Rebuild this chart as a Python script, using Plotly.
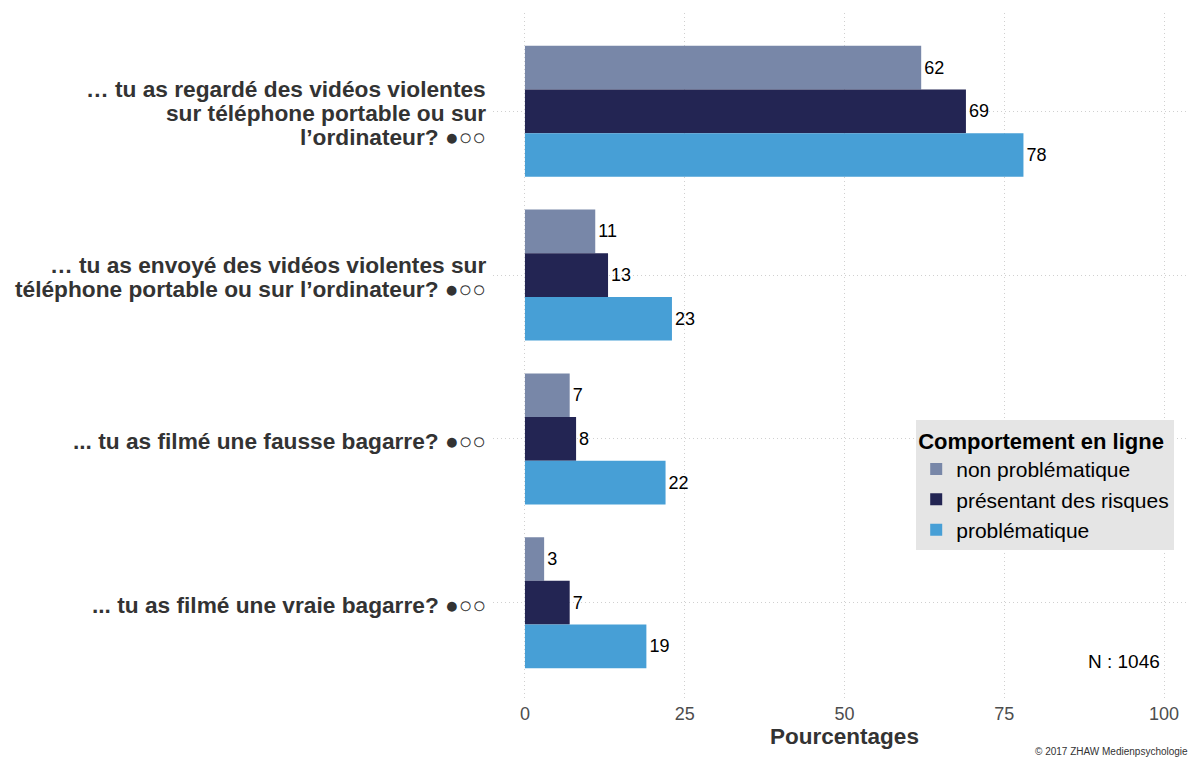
import plotly.graph_objects as go

categories = [
    "… tu as regardé des vidéos violentes<br>sur téléphone portable ou sur<br>l’ordinateur? ●○○",
    "… tu as envoyé des vidéos violentes sur<br>téléphone portable ou sur l’ordinateur? ●○○",
    "... tu as filmé une fausse bagarre? ●○○",
    "... tu as filmé une vraie bagarre? ●○○",
]
series_names = ["non problématique", "présentant des risques", "problématique"]
non_problematique = [62, 11, 7, 3]
presentant_risques = [69, 13, 8, 7]
problematique = [78, 23, 22, 19]
colors = ["#7887a8", "#232553", "#479fd6"]
x_ticks = [0, 25, 50, 75, 100]

FONT = "Liberation Sans, Arial, sans-serif"

fig = go.Figure()
for name, vals, col in zip(series_names, [non_problematique, presentant_risques, problematique], colors):
    fig.add_trace(go.Bar(
        y=categories, x=vals, name=name, orientation="h",
        marker=dict(color=col, line=dict(width=0)),
        text=[str(v) for v in vals], textposition="outside",
        textfont=dict(size=18, color="black", family=FONT),
        cliponaxis=False,
    ))

# category labels drawn as tight-line-spaced annotations
annotations = []
LINE_H = 24
for cat in categories:
    lines = cat.split("<br>")
    n = len(lines)
    for i, ln in enumerate(lines):
        annotations.append(dict(
            text=ln, xref="paper", x=0, xanchor="right", xshift=-5,
            yref="y", y=cat, yanchor="middle",
            yshift=((n - 1) / 2 - i) * LINE_H - 2,
            showarrow=False,
            font=dict(size=22.7, color="#333333", family=FONT, weight="bold"),
        ))

annotations += [
    dict(text="N : 1046", x=93.7, xref="x", y=0.057, yref="paper", yanchor="middle",
         showarrow=False, font=dict(size=19, color="black", family=FONT)),
    dict(text="© 2017 ZHAW Medienpsychologie", x=0.992, xref="paper", xanchor="right",
         y=-0.074, yref="paper", yanchor="middle", showarrow=False,
         font=dict(size=10, color="#333333", family=FONT)),
]

fig.update_layout(
    width=1189, height=753,
    margin=dict(l=485, r=1, t=5, b=60),
    plot_bgcolor="white", paper_bgcolor="white",
    barmode="group", bargap=0.2, bargroupgap=0,
    font=dict(family=FONT, color="#333333"),
    legend=dict(
        x=0.602, y=0.408, xanchor="left", yanchor="top",
        bgcolor="#e5e5e5", borderwidth=0,
        font=dict(size=21, color="black", family=FONT),
        title=dict(text="Comportement en ligne", font=dict(size=22, color="black", family=FONT, weight="bold")),
        traceorder="normal", itemwidth=30, tracegroupgap=0,
    ),
    xaxis=dict(
        range=[-5, 105], tickvals=x_ticks, ticktext=[str(t) for t in x_ticks],
        showgrid=True, gridcolor="#d0d0d0", griddash="1px,3px", gridwidth=1,
        zeroline=False, showline=False, ticks="",
        tickfont=dict(size=18, color="#4d4d4d", family=FONT),
        title=dict(text="Pourcentages", font=dict(size=22.5, color="#333333", family=FONT, weight="bold"), standoff=3),
    ),
    yaxis=dict(
        categoryorder="array", categoryarray=categories,
        range=[3.6, -0.6],
        showgrid=True, gridcolor="#d0d0d0", griddash="1px,3px", gridwidth=1,
        zeroline=False, showline=False, ticks="", showticklabels=False,
    ),
    annotations=annotations,
)

fig.write_html("out.html")
